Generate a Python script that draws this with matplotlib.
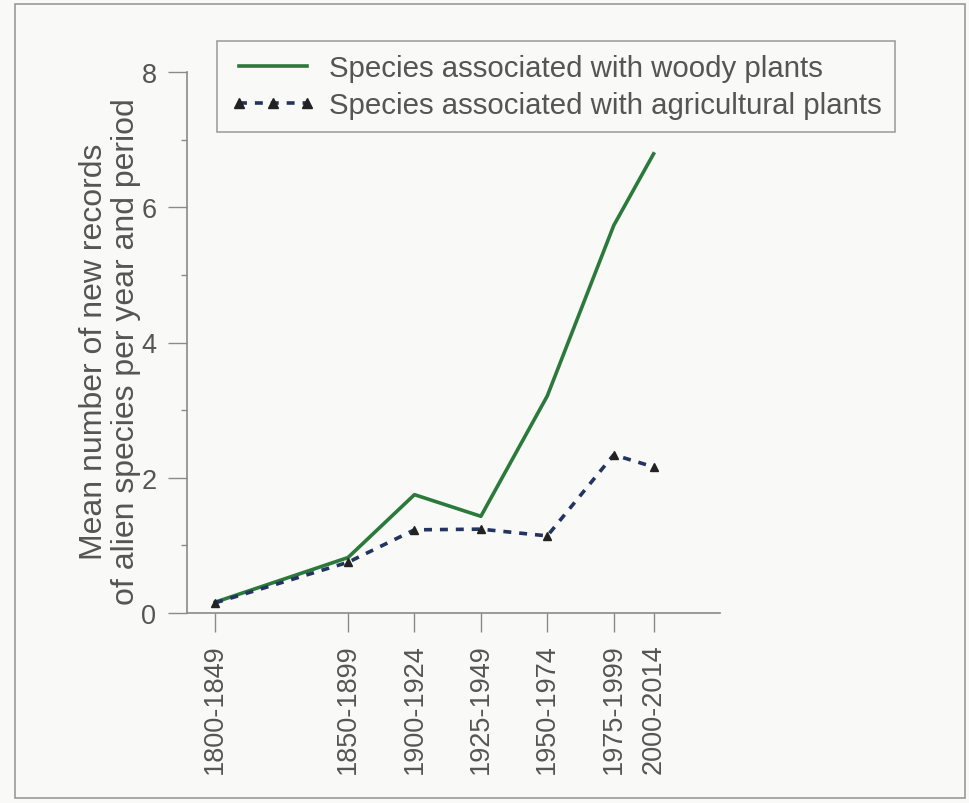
import matplotlib
matplotlib.use("Agg")
import matplotlib.pyplot as plt
from matplotlib.patches import Rectangle
from matplotlib.ticker import MultipleLocator

# periods are placed at their end year
period_labels = ["1800-1849", "1850-1899", "1900-1924", "1925-1949",
                 "1950-1974", "1975-1999", "2000-2014"]
period_end = [1849, 1899, 1924, 1949, 1974, 1999, 2014]

woody = [0.16, 0.82, 1.75, 1.43, 3.21, 5.73, 6.79]
agricultural = [0.15, 0.75, 1.23, 1.24, 1.14, 2.34, 2.16]

plt.rcParams["font.family"] = ["Liberation Sans", "DejaVu Sans"]
text_col = "#555555"
axis_col = "#8a8a8a"

fig = plt.figure(figsize=(9.69, 8.04), dpi=100, facecolor="#f9f9f7")
ax = fig.add_axes([187 / 969, 1 - 614 / 804, (720 - 187) / 969, (614 - 73) / 804])
ax.set_facecolor("none")

ax.plot(period_end, woody, color="#2b7a3b", lw=2.6,
        label="Species associated with woody plants")
ax.plot(period_end, agricultural, color="#22345f", lw=2.6, ls=(0, (2.2, 2.2)),
        marker="^", ms=6, mfc="#222222", mec="#222222",
        label="Species associated with agricultural plants")

ax.set_xlim(1838.4, 2039)
ax.set_ylim(0, 8)
ax.set_xticks(period_end)
ax.set_xticklabels(period_labels, rotation=90)
ax.yaxis.set_major_locator(MultipleLocator(2))
ax.yaxis.set_minor_locator(MultipleLocator(1))

for s in ["top", "right"]:
    ax.spines[s].set_visible(False)
for s in ["left", "bottom"]:
    ax.spines[s].set_color(axis_col)
    ax.spines[s].set_linewidth(1.2)

ax.tick_params(axis="both", which="major", length=14, width=1, color=axis_col,
               labelsize=19.5, labelcolor=text_col, pad=8)
ax.tick_params(axis="y", which="minor", length=4, width=1, color=axis_col)

ax.set_ylabel("Mean number of new records\nof alien species per year and period",
              fontsize=23, color=text_col, linespacing=1.05)
ax.yaxis.set_label_coords(-0.087, 0.485)

leg = ax.legend(loc="upper left", bbox_to_anchor=(30 / 533, 1 + 31 / 541),
                fontsize=21.2, frameon=True, fancybox=False, numpoints=3,
                handlelength=2.9, handletextpad=0.45, borderpad=0.45,
                labelspacing=0.3, borderaxespad=0, markerscale=1.3)
leg.get_frame().set_edgecolor(axis_col)
leg.get_frame().set_linewidth(1.2)
leg.get_frame().set_facecolor("none")
for t in leg.get_texts():
    t.set_color(text_col)

# thin frame round the whole figure
fig.patches.append(Rectangle((15 / 969, 1 - 799 / 804), 950 / 969, 794 / 804,
                             transform=fig.transFigure, fill=False,
                             edgecolor="#999999", lw=1.2))

fig.savefig("out.png", dpi=100, facecolor=fig.get_facecolor())
